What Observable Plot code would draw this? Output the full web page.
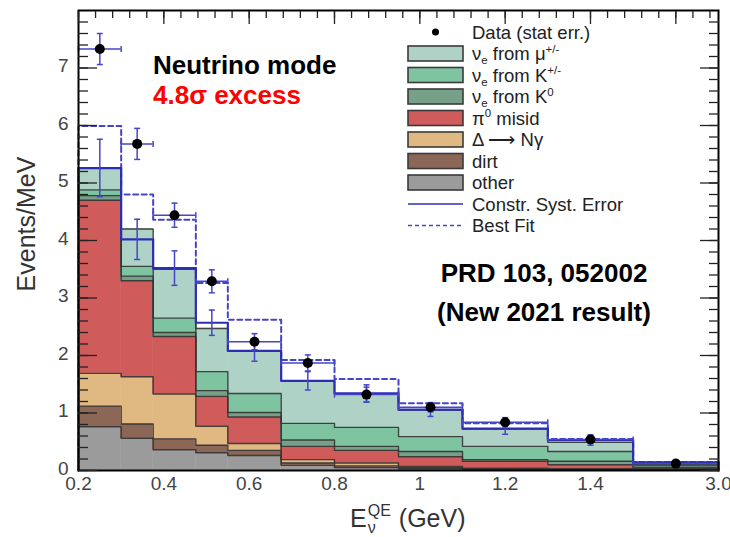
<!DOCTYPE html>
<html>
<head>
<meta charset="utf-8">
<script src="https://cdn.jsdelivr.net/npm/d3@7"></script>
<script src="https://cdn.jsdelivr.net/npm/@observablehq/plot@0.6"></script>
<style>
  body { margin: 0; background: #fff; }
  #chart svg { display: block; }
</style>
</head>
<body>
<div id="chart"></div>
<script>
// Reconstructed neutrino energy bins (GeV); the last bin, 1.5–3.0 GeV, is drawn compressed.
const binEdges = [0.2, 0.3, 0.375, 0.475, 0.55, 0.675, 0.8, 0.95, 1.1, 1.3, 1.5, 3.0];

// Predicted backgrounds in events/MeV, listed bottom to top of the stack.
const components = ["other", "dirt", "delta", "pi0", "nueK0", "nueKpm", "nueMu"];
const other  = [0.76, 0.56, 0.36, 0.31, 0.26, 0.09, 0.05, 0.03, 0.02, 0.015, 0.005];
const dirt   = [0.36, 0.25, 0.19, 0.13, 0.09, 0.04, 0.03, 0.02, 0.01, 0.005, 0.005];
const delta  = [0.57, 0.82, 0.78, 0.33, 0.12, 0.06, 0.05, 0.02, 0.01, 0.01, 0.005];
const pi0    = [3.01, 1.67, 1.00, 0.52, 0.46, 0.23, 0.22, 0.17, 0.12, 0.07, 0.015];
const nueK0  = [0.08, 0.08, 0.07, 0.10, 0.08, 0.11, 0.07, 0.09, 0.03, 0.06, 0.02];
const nueKpm = [0.10, 0.17, 0.25, 0.33, 0.33, 0.29, 0.33, 0.26, 0.23, 0.17, 0.03];
const nueMu  = [0.38, 0.65, 0.85, 0.75, 0.74, 0.74, 0.58, 0.46, 0.30, 0.16, 0.02];
const componentColors = ["#9b9b9b", "#8c6656", "#e0b882", "#d05b5b", "#77a089", "#7fc4a1", "#afd2c6"];

// Constrained background prediction with its systematic error, and the best-fit prediction.
const constrained    = [5.26, 4.02, 3.52, 2.57, 2.08, 1.56, 1.34, 1.06, 0.73, 0.53, 0.14];
const constrainedErr = [0.50, 0.35, 0.30, 0.22, 0.18, 0.16, 0.15, 0.12, 0.10, 0.09, 0.02];
const bestFit        = [5.99, 4.80, 4.36, 3.26, 2.62, 1.92, 1.59, 1.17, 0.82, 0.55, 0.15];

// Observed data with statistical errors.
const dataValues = [7.33, 5.68, 4.44, 3.29, 2.24, 1.87, 1.32, 1.10, 0.84, 0.54, 0.12];
const dataErr    = [0.27, 0.27, 0.21, 0.20, 0.14, 0.14, 0.13, 0.08, 0.08, 0.06, 0.03];

// Axis ticks
const xTickValues = [0.2, 0.4, 0.6, 0.8, 1.0, 1.2, 1.4, 3.0];
const xTickText   = ["0.2", "0.4", "0.6", "0.8", "1", "1.2", "1.4", "3.0"];
const yTickValues = [0, 1, 2, 3, 4, 5, 6, 7];

// ---------------------------------------------------------------------------
const W = 730, H = 537;
const marginLeft = 78, marginRight = 12, marginTop = 10, marginBottom = 67;
const blue = "#2d2db4";
const errBlue = "#4545c8";
const font = "'Liberation Sans', Arial, Helvetica, sans-serif";

const series = {other, dirt, delta, pi0, nueK0, nueKpm, nueMu};
const nBins = binEdges.length - 1;

// Linear up to 1.5 GeV, then the overflow bin squeezed into the width of 0.2 GeV.
const xRange = [marginLeft, marginLeft + (W - marginLeft - marginRight) * 1.3 / 1.5, W - marginRight];
const toAxis = (e) => e <= 1.5 ? e : 1.5 + (e - 1.5) * 7.5;

// Stack the components
const stackRows = [];
const tops = components.map(() => []);
for (let i = 0; i < nBins; ++i) {
  let base = 0;
  components.forEach((c, k) => {
    const top = base + series[c][i];
    stackRows.push({component: c, x1: binEdges[i], x2: binEdges[i + 1], y1: base, y2: top});
    tops[k].push(top);
    base = top;
  });
}
const stepPoints = (values, extra = {}) =>
  binEdges.map((x, i) => ({...extra, x, y: values[Math.min(i, nBins - 1)]}));
const outlineRows = components.flatMap((c, k) => stepPoints(tops[k], {component: c}));
const closedSteps = (values) => [{x: binEdges[0], y: 0}, ...stepPoints(values), {x: binEdges[nBins], y: 0}];

const bins = d3.range(nBins).map((i) => ({
  x1: binEdges[i], x2: binEdges[i + 1], xc: (binEdges[i] + binEdges[i + 1]) / 2,
  c: constrained[i], ce: constrainedErr[i], d: dataValues[i], de: dataErr[i]
}));

// Error bar end caps drawn as symbols
const capH = {draw(ctx, size) { const r = Math.sqrt(size / Math.PI); ctx.moveTo(-r, 0); ctx.lineTo(r, 0); }};
const capV = {draw(ctx, size) { const r = Math.sqrt(size / Math.PI); ctx.moveTo(0, -r); ctx.lineTo(0, r); }};

// Minor tick positions: every 0.04 (0.2 for majors) of the displayed axis
const xMinor = d3.range(0, 38).map((k) => toAxis(+(0.2 + 0.04 * k).toFixed(3)));
const xMajor = d3.range(0, 8).map((k) => toAxis(+(0.2 + 0.2 * k).toFixed(3)));
const yMinor = d3.range(0, 40).map((k) => +(0.2 * k).toFixed(2));

const tickStyle = {fill: "none", stroke: "#222", strokeWidth: 1.3};

const chart = Plot.plot({
  width: W, height: H,
  marginLeft, marginRight, marginTop, marginBottom,
  style: {fontFamily: font, background: "#fff"},
  x: {type: "linear", domain: [0.2, 1.5, 3.0], range: xRange, axis: null},
  y: {domain: [0, 8], axis: null},
  color: {domain: components, range: componentColors},
  marks: [
    Plot.rect(stackRows, {x1: "x1", x2: "x2", y1: "y1", y2: "y2", fill: "component", stroke: "component", strokeWidth: 0.5}),
    Plot.line(outlineRows, {x: "x", y: "y", z: "component", curve: "step-after", stroke: "#333", strokeWidth: 1.4, strokeOpacity: 0.9}),
    Plot.line(closedSteps(bestFit), {x: "x", y: "y", curve: "step-after", stroke: errBlue, strokeWidth: 2, strokeDasharray: "5,3.5"}),
    Plot.line(closedSteps(constrained), {x: "x", y: "y", curve: "step-after", stroke: blue, strokeWidth: 2.2}),
    // systematic error bars on the constrained prediction
    Plot.ruleX(bins, {x: "xc", y1: (d) => d.c - d.ce, y2: (d) => d.c + d.ce, stroke: errBlue, strokeWidth: 1.5}),
    Plot.dot(bins, {x: "xc", y: (d) => d.c - d.ce, symbol: capH, r: 3, stroke: errBlue, strokeWidth: 1.5, fill: "none"}),
    Plot.dot(bins, {x: "xc", y: (d) => d.c + d.ce, symbol: capH, r: 3, stroke: errBlue, strokeWidth: 1.5, fill: "none"}),
    // data: bin-width bars, statistical errors and points
    Plot.ruleY(bins, {x1: "x1", x2: "x2", y: "d", stroke: errBlue, strokeWidth: 1.5}),
    Plot.dot(bins, {x: "x1", y: "d", symbol: capV, r: 3, stroke: errBlue, strokeWidth: 1.5, fill: "none"}),
    Plot.dot(bins, {x: "x2", y: "d", symbol: capV, r: 3, stroke: errBlue, strokeWidth: 1.5, fill: "none"}),
    Plot.ruleX(bins, {x: "xc", y1: (d) => d.d - d.de, y2: (d) => d.d + d.de, stroke: errBlue, strokeWidth: 1.5}),
    Plot.dot(bins, {x: "xc", y: (d) => d.d - d.de, symbol: capH, r: 3, stroke: errBlue, strokeWidth: 1.5, fill: "none"}),
    Plot.dot(bins, {x: "xc", y: (d) => d.d + d.de, symbol: capH, r: 3, stroke: errBlue, strokeWidth: 1.5, fill: "none"}),
    Plot.dot(bins, {x: "xc", y: "d", r: 5, fill: "#000"}),
    Plot.frame({stroke: "#000", strokeWidth: 2}),
    // inward ticks on the left, right and top
    Plot.axisY({anchor: "left", ticks: yMinor, tickSize: -10, ...tickStyle}),
    Plot.axisY({anchor: "left", ticks: yTickValues, tickSize: -19, ...tickStyle}),
    Plot.axisY({anchor: "right", ticks: yMinor, tickSize: -10, ...tickStyle}),
    Plot.axisY({anchor: "right", ticks: yTickValues, tickSize: -19, ...tickStyle}),
    Plot.axisX({anchor: "top", ticks: xMinor, tickSize: -7, ...tickStyle}),
    Plot.axisX({anchor: "top", ticks: xMajor, tickSize: -13, ...tickStyle}),
    // tick labels
    Plot.axisY({anchor: "left", ticks: yTickValues, tickSize: 0, tickPadding: 10, fontSize: 19, fill: "#444", label: null,
      dy: -2, tickFormat: (d) => String(d)}),
    Plot.axisX({anchor: "bottom", ticks: xTickValues, tickSize: 0, tickPadding: 6, fontSize: 19, fill: "#444", label: null,
      tickFormat: (d) => xTickText[xTickValues.indexOf(d)]})
  ]
});

document.getElementById("chart").append(chart);
const svg = d3.select(chart);

// Rich text helper for sub- and superscripts
function rich(sel, parts, size) {
  let shift = 0;
  for (const [t, kind] of parts) {
    const target = kind === "sub" ? 0.22 * size : kind === "sup" ? -0.4 * size : 0;
    sel.append("tspan").attr("dy", target - shift).attr("font-size", kind ? size * 0.62 : size).text(t);
    shift = target;
  }
}

// Legend
const legendRows = [
  {kind: "dot", parts: [["Data (stat err.)"]]},
  {kind: "box", fill: componentColors[6], parts: [["ν"], ["e", "sub"], [" from μ"], ["+/-", "sup"]]},
  {kind: "box", fill: componentColors[5], parts: [["ν"], ["e", "sub"], [" from K"], ["+/-", "sup"]]},
  {kind: "box", fill: componentColors[4], parts: [["ν"], ["e", "sub"], [" from K"], ["0", "sup"]]},
  {kind: "box", fill: componentColors[3], parts: [["π"], ["0", "sup"], [" misid"]]},
  {kind: "box", fill: componentColors[2], parts: [["Δ ⟶ Nγ"]]},
  {kind: "box", fill: componentColors[1], parts: [["dirt"]]},
  {kind: "box", fill: componentColors[0], parts: [["other"]]},
  {kind: "line", parts: [["Constr. Syst. Error"]]},
  {kind: "dash", parts: [["Best Fit"]]}
];
const legend = svg.append("g").attr("font-family", font).attr("fill", "#222").attr("text-anchor", "start");
const lgX = 408, lgW = 55, lgY0 = 32, lgStep = 21.5, lgFont = 18.5;
legendRows.forEach((row, i) => {
  const cy = lgY0 + i * lgStep;
  if (row.kind === "dot") {
    legend.append("circle").attr("cx", lgX + lgW / 2).attr("cy", cy).attr("r", 3.5).attr("fill", "#000");
  } else if (row.kind === "box") {
    legend.append("rect").attr("x", lgX).attr("y", cy - 7.5).attr("width", lgW).attr("height", 15)
      .attr("fill", row.fill).attr("stroke", "#3a3a3a").attr("stroke-width", 1.6);
  } else {
    legend.append("line").attr("x1", lgX).attr("x2", lgX + lgW).attr("y1", cy).attr("y2", cy)
      .attr("stroke", row.kind === "line" ? blue : errBlue).attr("stroke-width", 1.5)
      .attr("stroke-dasharray", row.kind === "dash" ? "4,3" : null);
  }
  const t = legend.append("text").attr("x", lgX + 64).attr("y", cy + 0.36 * lgFont).attr("font-size", lgFont);
  rich(t, row.parts, lgFont);
});

// Annotations
const notes = svg.append("g").attr("font-family", font).attr("font-weight", "bold").attr("font-size", 26)
  .attr("text-anchor", "start");
notes.append("text").attr("x", 153).attr("y", 74).attr("fill", "#000").text("Neutrino mode");
notes.append("text").attr("x", 153).attr("y", 103.5).attr("fill", "#ff0000").text("4.8σ excess");
notes.append("text").attr("x", 544).attr("y", 282).attr("text-anchor", "middle").attr("fill", "#000").text("PRD 103, 052002");
notes.append("text").attr("x", 544).attr("y", 321).attr("text-anchor", "middle").attr("fill", "#000").text("(New 2021 result)");

// Axis titles
const titles = svg.append("g").attr("font-family", font).attr("fill", "#333").attr("text-anchor", "start");
titles.append("text").attr("transform", "translate(35,224) rotate(-90)").attr("text-anchor", "middle")
  .attr("font-size", 25).text("Events/MeV");
const tx = 350, ty = 527, tf = 25;
const tE = titles.append("text").attr("x", tx).attr("y", ty).attr("font-size", tf).text("E");
const eW = tE.node().getComputedTextLength();
const tSub = titles.append("text").attr("x", tx + eW + 1).attr("y", ty + 6).attr("font-size", 16).text("ν");
const tSup = titles.append("text").attr("x", tx + eW + 1).attr("y", ty - 11).attr("font-size", 16).text("QE");
const scriptW = Math.max(tSub.node().getComputedTextLength(), tSup.node().getComputedTextLength());
titles.append("text").attr("x", tx + eW + 1 + scriptW + 8).attr("y", ty).attr("font-size", tf).text("(GeV)");
</script>
</body>
</html>
